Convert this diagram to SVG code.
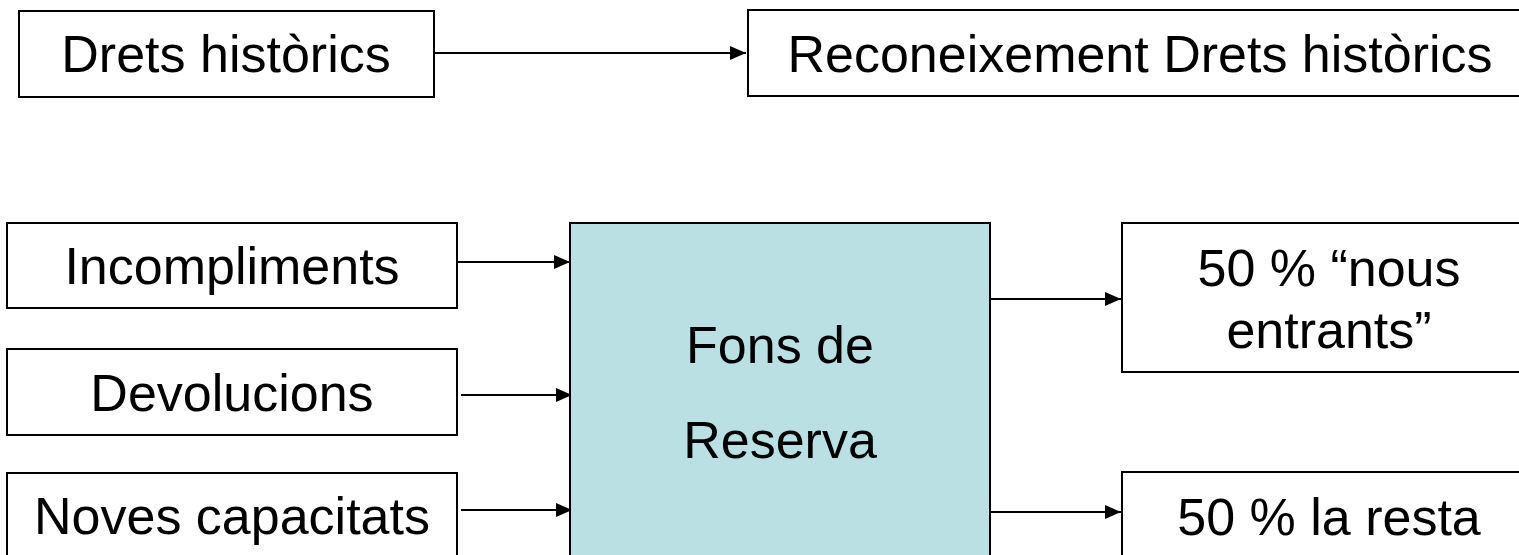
<svg xmlns="http://www.w3.org/2000/svg" width="1519" height="555" viewBox="0 0 1519 555">
<style>
.box{fill:#fff;stroke:#000;stroke-width:2}
.fons{fill:#BBE0E3;stroke:#000;stroke-width:2}
.t{font-family:"Liberation Sans",Arial,sans-serif;font-size:52px;fill:#000;text-anchor:middle}
.c{stroke:#000;stroke-width:2;fill:none;marker-end:url(#ah)}
</style>
<defs>
<marker id="ah" markerUnits="userSpaceOnUse" markerWidth="16" markerHeight="14" refX="16" refY="7" orient="auto">
<path d="M0,0 L16,7 L0,14 z" fill="#000"/>
</marker>
</defs>
<rect width="1519" height="555" fill="#fff"/>
<g id="connectors">
<line class="c" x1="434" y1="53" x2="746" y2="53"/>
<line class="c" x1="454" y1="262" x2="570" y2="262"/>
<line class="c" x1="461" y1="395" x2="572" y2="395"/>
<line class="c" x1="461" y1="510" x2="572" y2="510"/>
<line class="c" x1="990" y1="299" x2="1121" y2="299"/>
<line class="c" x1="990" y1="512" x2="1121" y2="512"/>
</g>
<g id="drets">
<rect class="box" x="19" y="11" width="415" height="86"/>
<text class="t" x="226" y="72">Drets històrics</text>
</g>
<g id="reconeixement">
<rect class="box" x="748" y="10" width="790" height="86"/>
<text class="t" x="1140" y="72">Reconeixement Drets històrics</text>
</g>
<g id="incompliments">
<rect class="box" x="7" y="223" width="450" height="85"/>
<text class="t" x="232" y="284">Incompliments</text>
</g>
<g id="devolucions">
<rect class="box" x="7" y="349" width="450" height="86"/>
<text class="t" x="232" y="411">Devolucions</text>
</g>
<g id="noves">
<rect class="box" x="7" y="473" width="450" height="100"/>
<text class="t" x="232" y="534">Noves capacitats</text>
</g>
<g id="fons">
<rect class="fons" x="570" y="223" width="420" height="350"/>
<text class="t" x="780" y="363">Fons de</text>
<text class="t" x="780" y="458">Reserva</text>
</g>
<g id="nous">
<rect class="box" x="1122" y="223" width="414" height="149"/>
<text class="t" x="1329" y="286">50 % “nous</text>
<text class="t" x="1329" y="348">entrants”</text>
</g>
<g id="resta">
<rect class="box" x="1122" y="472" width="414" height="100"/>
<text class="t" x="1329" y="535">50 % la resta</text>
</g>
</svg>
